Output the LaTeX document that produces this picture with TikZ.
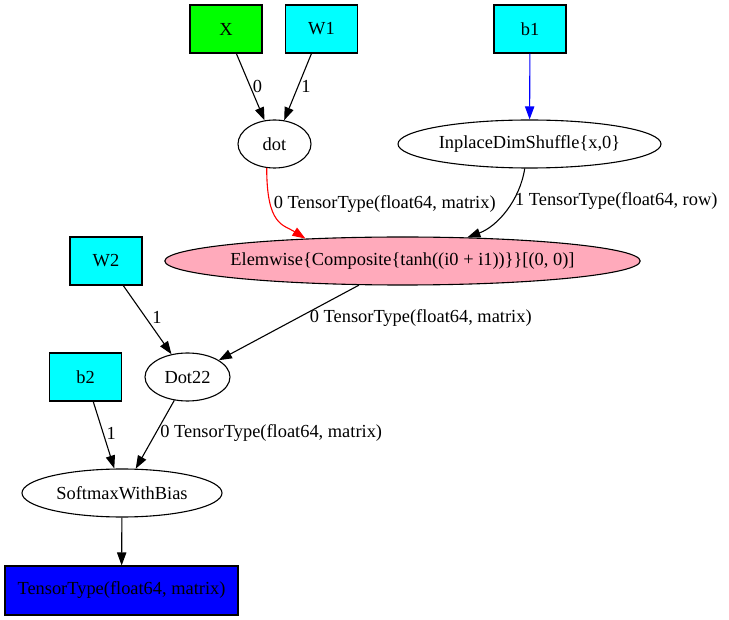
\documentclass[tikz,border=0pt]{standalone}
\usepackage{fontspec}
\setmainfont{Liberation Serif}
\usetikzlibrary{shapes.geometric,arrows.meta}
\definecolor{elemfill}{HTML}{FFAABB}
\definecolor{sharedfill}{RGB}{0,255,255}
\definecolor{inputfill}{RGB}{0,255,0}
\definecolor{outfill}{RGB}{0,0,255}
\tikzset{
  varbox/.style={draw, rectangle, line width=1.1pt, minimum width=72pt, minimum height=48pt, inner sep=0pt},
  opnode/.style={draw, ellipse, line width=1.1pt, minimum height=48pt, inner sep=0pt},
  gv/.style={-{Triangle[length=13pt,width=9.3pt]}, line width=1.1pt},
  lbl/.style={anchor=west, inner sep=0pt},
}
\begin{document}
\begin{tikzpicture}[x=1pt,y=-1pt,font=\fontsize{18.4}{22}\selectfont]
    \useasboundingbox (0,0) rectangle (729,620);
    \node [varbox,fill=inputfill] (X) at (226,29) {X};
    \node [varbox,fill=sharedfill] (W1) at (321.5,29) {W1};
    \node [varbox,fill=sharedfill] (b1) at (530,29) {b1};
    \node [opnode,minimum width=73pt] (dot) at (274.5,144) {dot};
    \node [opnode,minimum width=263pt] (shuffle) at (529.5,144) {InplaceDimShuffle\{x,0\}};
    \node [opnode,minimum width=475pt,inner xsep=-4pt,fill=elemfill] (elemwise) at (402.5,261)
      {Elemwise\{Composite\{tanh((i0 + i1))\}\}[(0, 0)]};
    \node [varbox,fill=sharedfill] (W2) at (106,261) {W2};
    \node [opnode,minimum width=85pt] (dot22) at (187.5,377) {Dot22};
    \node [varbox,fill=sharedfill] (b2) at (85.5,377) {b2};
    \node [opnode,minimum width=200pt] (softmax) at (122,493) {SoftmaxWithBias};
    \node [varbox,fill=outfill,minimum width=233pt,minimum height=49pt] (out) at (121.5,590.5)
      {TensorType(float64, matrix)};
    \path (X) edge [gv] node [lbl,pos=0.5,xshift=2pt] {0} (dot);
    \path (W1) edge [gv] node [lbl,pos=0.5,xshift=3pt] {1} (dot);
    \path (b1) edge [gv,blue] (shuffle);
    \draw [gv,red] (dot.-108) .. controls +(0,58) and +(-22,-14) .. (elemwise.167)
      node [lbl,pos=0.28,xshift=3pt,text=black] {0 TensorType(float64, matrix)};
    \draw [gv] (shuffle.-101) .. controls +(-5,32) and +(30,-11) .. (elemwise.20)
      node [lbl,pos=0.37,xshift=2pt] {1 TensorType(float64, row)};
    \path (elemwise.-151.5) edge [gv] node [lbl,pos=0.44,xshift=12pt] {0 TensorType(float64, matrix)} (dot22);
    \path (W2) edge [gv] node [lbl,pos=0.47,xshift=6pt] {1} (dot22);
    \path (b2) edge [gv] node [lbl,pos=0.47,xshift=3pt] {1} (softmax);
    \path (dot22) edge [gv] node [lbl,pos=0.48,xshift=4pt] {0 TensorType(float64, matrix)} (softmax);
    \path (softmax) edge [gv] (out);
  \end{tikzpicture}
\end{document}
